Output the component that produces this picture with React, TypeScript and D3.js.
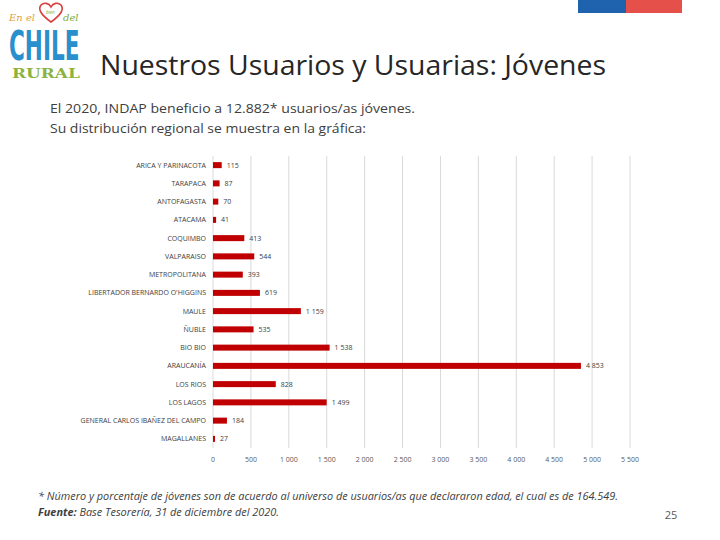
import React from "react";
import * as d3 from "d3";

const categories = [
  "ARICA Y PARINACOTA",
  "TARAPACA",
  "ANTOFAGASTA",
  "ATACAMA",
  "COQUIMBO",
  "VALPARAISO",
  "METROPOLITANA",
  "LIBERTADOR BERNARDO O'HIGGINS",
  "MAULE",
  "ÑUBLE",
  "BIO BIO",
  "ARAUCANÍA",
  "LOS RIOS",
  "LOS LAGOS",
  "GENERAL CARLOS IBAÑEZ DEL CAMPO",
  "MAGALLANES",
];
const values = [115, 87, 70, 41, 413, 544, 393, 619, 1159, 535, 1538, 4853, 828, 1499, 184, 27];
const tickValues = [0, 500, 1000, 1500, 2000, 2500, 3000, 3500, 4000, 4500, 5000, 5500];

const title = "Nuestros Usuarios y Usuarias: Jóvenes";
const subtitle1 = "El 2020, INDAP beneficio a 12.882* usuarios/as jóvenes.";
const subtitle2 = "Su distribución regional se muestra en la gráfica:";
const footnote =
  "* Número y porcentaje de jóvenes son de acuerdo al universo de usuarios/as que declararon edad, el cual es de 164.549.";
const sourceLabel = "Fuente:";
const sourceText = " Base Tesorería, 31 de diciembre del 2020.";
const pageNumber = "25";

const fmt = (v: number) => (v >= 1000 ? d3.format(",")(v).replace(/,/g, " ") : String(v));

export default function App() {
  const W = 720;
  const H = 540;
  const x = d3.scaleLinear().domain([0, 5500]).range([213, 630]);
  const y = d3.scaleBand<string>().domain(categories).range([156, 448]).paddingInner(0.67).paddingOuter(0.335);
  const font = "'Open Sans', sans-serif";
  return (
    <svg width={W} height={H} style={{ position: "absolute", left: 0, top: 0, background: "#fff" }} fontFamily={font}>
      <rect x={0} y={0} width={W} height={H} fill="#fff" />
      {/* flag */}
      <rect x={578} y={0} width={48} height={13} fill="#1f62ad" />
      <rect x={626} y={0} width={56} height={13} fill="#e5504a" />
      {/* logo */}
      <g>
        <text x={9} y={21} fontFamily="'DejaVu Serif', serif" fontStyle="italic" fontSize={10} fill="#e0a23a" textLength={26} lengthAdjust="spacingAndGlyphs">En el</text>
        <path d="M51,22 C40,14 38,9 41,5 C44,2 49,3 51,7 C53,3 58,2 61,5 C64,9 62,14 51,22 Z" fill="none" stroke="#d9413f" strokeWidth={1.6} />
        <text x={46} y={14} fontSize={4.5} fill="#7cab3a" fontStyle="italic">bien</text>
        <text x={63} y={21} fontFamily="'DejaVu Serif', serif" fontStyle="italic" fontSize={10} fill="#7cab3a">del</text>
        <text transform="translate(9,60) scale(1,1.7)" fontFamily="'DejaVu Sans Condensed', 'DejaVu Sans', sans-serif" fontWeight={700} fontSize={24} fill="#2a8fcd">CHILE</text>
        <text transform="translate(12,78) scale(1.3,1)" fontFamily="'DejaVu Serif', serif" fontWeight={700} fontSize={13} fill="#8cb33f">RURAL</text>
      </g>
      {/* title */}
      <text x={100} y={75} fontSize={28} fill="#262626" textLength={506} lengthAdjust="spacingAndGlyphs">{title}</text>
      <text x={50} y={113} fontSize={13.5} fill="#404040" textLength={365} lengthAdjust="spacingAndGlyphs">{subtitle1}</text>
      <text x={50} y={133} fontSize={13.5} fill="#404040" textLength={316} lengthAdjust="spacingAndGlyphs">{subtitle2}</text>
      {/* grid */}
      {tickValues.map((t) => (
        <line key={"g" + t} x1={x(t)} x2={x(t)} y1={156} y2={448} stroke="#d9d9d9" strokeWidth={1} />
      ))}
      {/* bars */}
      {categories.map((c, i) => {
        const yc = (y(c) as number) + y.bandwidth() / 2;
        return (
          <g key={c}>
            <text x={206} y={yc + 2.5} fontSize={7} fill="#404040" textAnchor="end">{c}</text>
            <rect x={x(0)} y={yc - 3} width={x(values[i]) - x(0)} height={6} fill="#c00000" />
            <text x={x(values[i]) + 5} y={yc + 2.5} fontSize={7} fill="#404040">{fmt(values[i])}</text>
          </g>
        );
      })}
      {/* axis labels */}
      {tickValues.map((t) => (
        <text key={"t" + t} x={x(t)} y={462} fontSize={7} fill="#595959" textAnchor="middle">{fmt(t)}</text>
      ))}
      {/* footnotes */}
      <text x={38} y={500} fontSize={10} fontStyle="italic" fill="#404040" textLength={580} lengthAdjust="spacingAndGlyphs">{footnote}</text>
      <text x={38} y={516} fontSize={10} fontStyle="italic" fill="#404040" textLength={241} lengthAdjust="spacingAndGlyphs">
        <tspan fontWeight={700}>{sourceLabel}</tspan>
        <tspan>{sourceText}</tspan>
      </text>
      <text x={671} y={519} fontSize={11} fill="#595959" textAnchor="middle">{pageNumber}</text>
    </svg>
  );
}
